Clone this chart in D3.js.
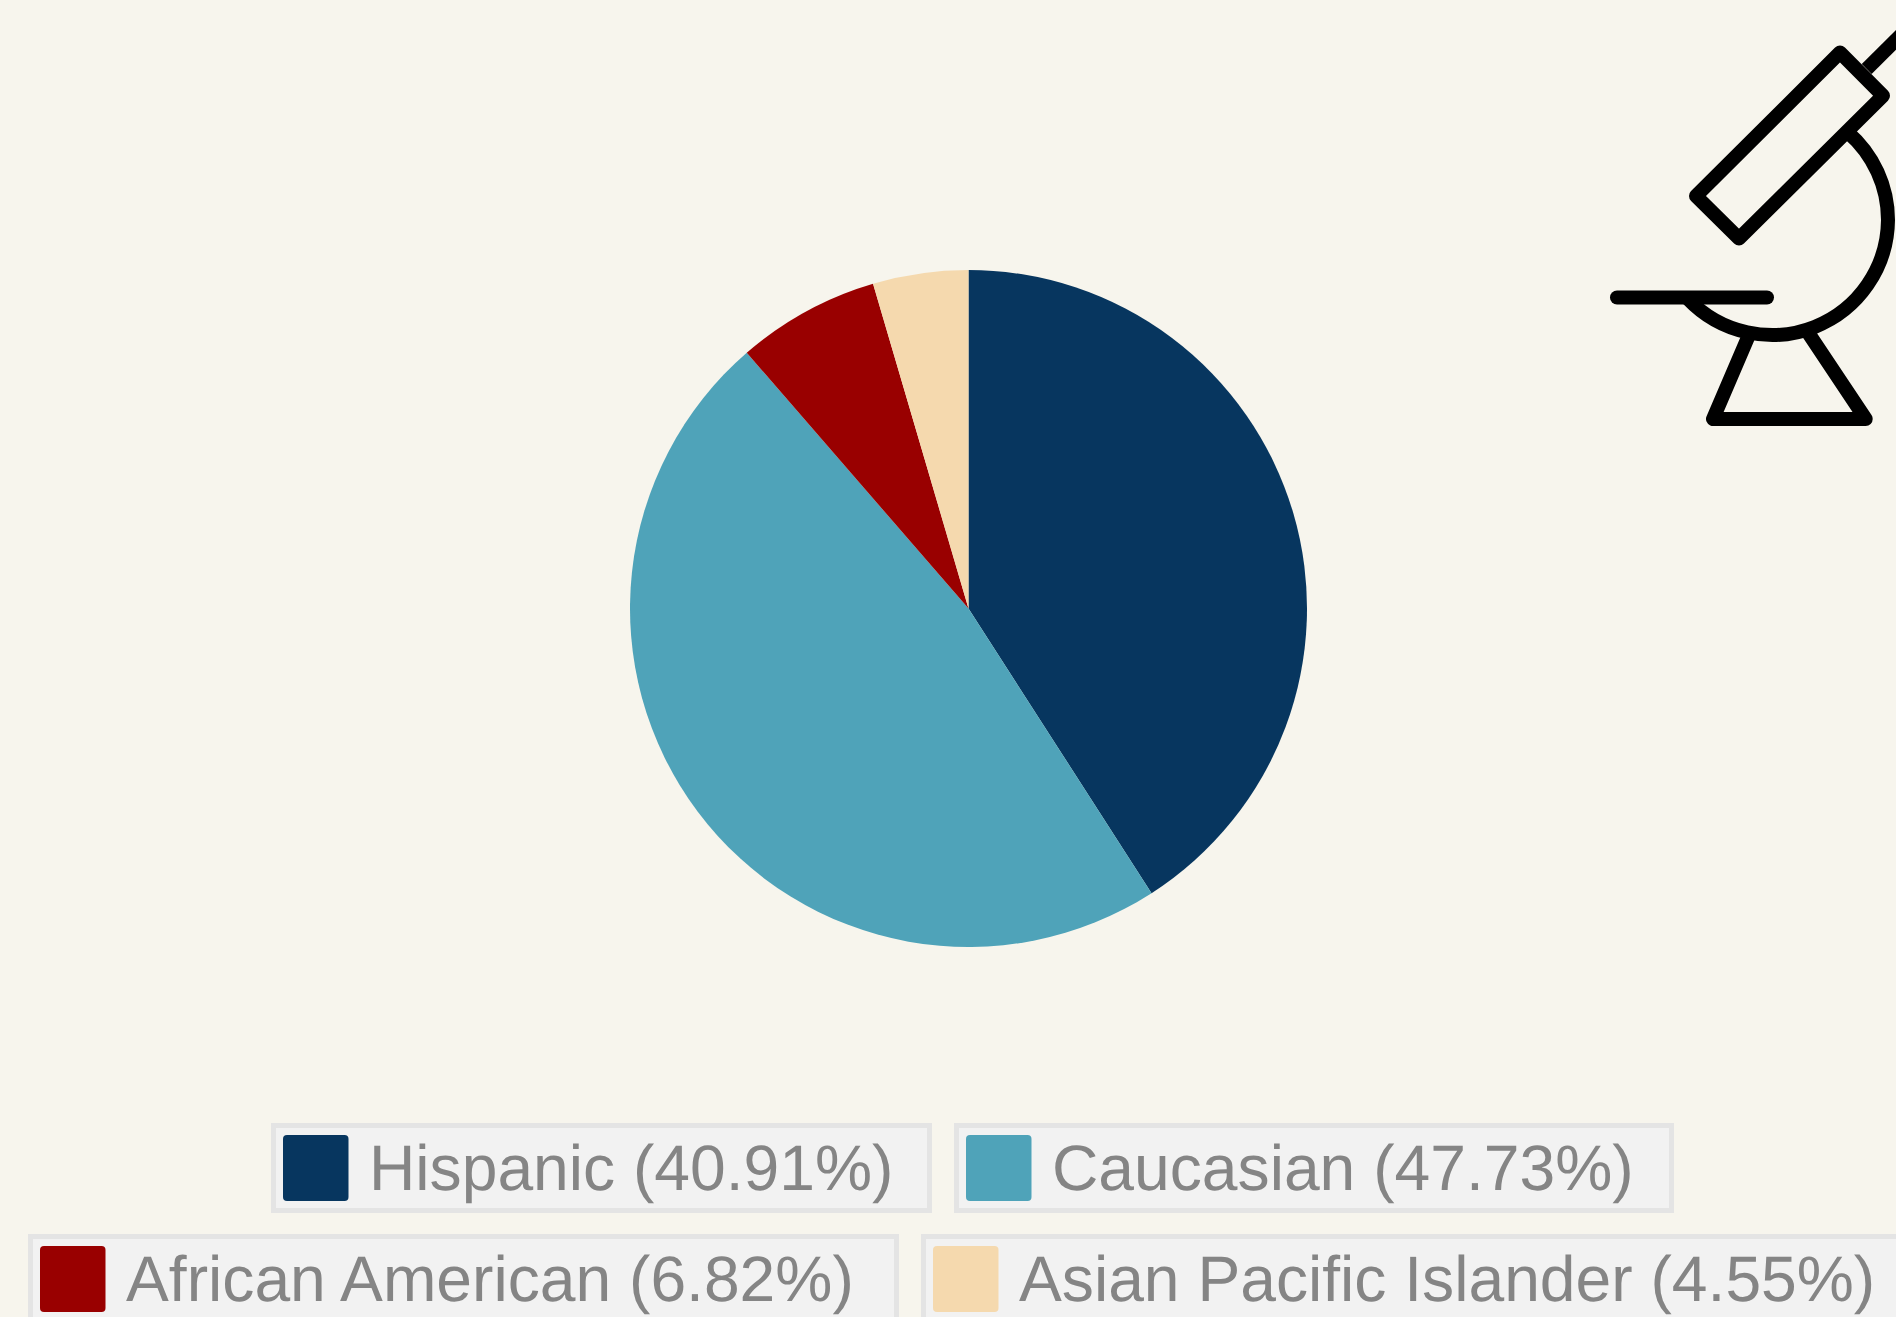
<!DOCTYPE html>
<html><head><meta charset="utf-8">
<script src="https://cdnjs.cloudflare.com/ajax/libs/d3/7.8.5/d3.min.js"></script>
<style>html,body{margin:0;padding:0;background:#f7f5ed;overflow:hidden}svg{display:block}</style>
</head><body><svg id="c" width="1896" height="1317"></svg>
<script>
const categories = ["Hispanic", "Caucasian", "African American", "Asian Pacific Islander"];
const values = [40.91, 47.73, 6.82, 4.55];
const colors = ["#07365f", "#4fa3b9", "#990000", "#f5d9ae"];
const legendBoxes = [[271,1123,661,90],[954,1123,720,90],[28,1234,871,90],[921,1234,1000,90]];

const W = 1896, H = 1317;
const svg = d3.select("#c");
svg.append("rect").attr("width",W).attr("height",H).attr("fill","#f7f5ed");

const cx = 968.5, cy = 608.5, R = 338.5;
const pie = d3.pie().sort(null).value(d=>d)(values);
const arc = d3.arc().innerRadius(0).outerRadius(R);
svg.append("g").attr("transform",`translate(${cx},${cy})`)
  .selectAll("path").data(pie).join("path")
  .attr("d",arc).attr("fill",(d,i)=>colors[i]);

// legend
const lg = svg.append("g");
categories.forEach((c,i)=>{
  const [x,y,w,h] = legendBoxes[i];
  const g = lg.append("g").attr("transform",`translate(${x},${y})`);
  g.append("rect").attr("x",2.5).attr("y",2.5).attr("width",w-5).attr("height",h-5)
    .attr("fill","#f2f2f2").attr("stroke","#e4e4e4").attr("stroke-width",5);
  g.append("rect").attr("x",12).attr("y",12).attr("width",65.5).attr("height",66).attr("rx",4)
    .attr("fill",colors[i]);
  g.append("text").attr("x",98).attr("y",67)
    .attr("font-family","'Liberation Sans',Arial,sans-serif").attr("font-size",64.2)
    .attr("text-rendering","geometricPrecision")
    .attr("fill","#858585").text(`${c} (${values[i].toFixed(2)}%)`);
});

// microscope icon
const ic = svg.append("g").attr("fill","none").attr("stroke","#000").attr("stroke-width",14)
  .attr("stroke-linejoin","round").attr("stroke-linecap","round");
ic.append("path").attr("d","M1840,52.5L1883,95.7L1739,238.5L1696,196Z");
ic.append("path").attr("d","M1866.7,69L1912,24").attr("stroke-linecap","butt");
ic.append("path").attr("d","M1848,132.5A116,116 0 0 1 1888,220A116,116 0 0 1 1688,299").attr("stroke-linecap","butt");
ic.append("path").attr("d","M1617,297.5H1767");
ic.append("path").attr("d","M1749,335L1713,419H1865.7L1807,331").attr("stroke-linecap","butt");
</script></body></html>
